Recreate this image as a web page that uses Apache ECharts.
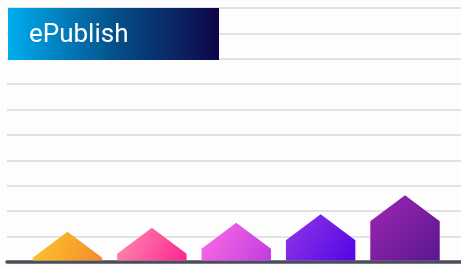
<!DOCTYPE html>
<html>
<head>
<meta charset="utf-8">
<script src="https://cdn.jsdelivr.net/npm/echarts@6/dist/echarts.min.js"></script>
<style>
  html, body { margin: 0; padding: 0; background: #fdfdfd; }
  #main { width: 461px; height: 269px; }
</style>
</head>
<body>
<div id="main"></div>
<script>
  var categories = ['A', 'B', 'C', 'D', 'E'];
  var values = [11.9, 13.5, 15.5, 18.8, 26.3];
  var barColors = [
    ['#fdc82e', '#f38a2c'],
    ['#ff8fae', '#fb2590'],
    ['#ff6de4', '#c03ce0'],
    ['#9238e8', '#5205e4'],
    ['#a026b4', '#58178e']
  ];

  var chart = echarts.init(document.getElementById('main'));

  function renderHouse(params, api) {
    var i = api.value(0);
    var top = api.coord([i, api.value(1)]);
    var base = api.coord([i, 0]);
    var w = api.size([1, 0])[0] * 0.823;
    var half = w / 2;
    var roof = half * 0.75;
    var c = barColors[params.dataIndex];
    return {
      type: 'polygon',
      shape: {
        points: [
          [top[0] - half, base[1] - 1.5],
          [top[0] - half, top[1] + roof],
          [top[0], top[1]],
          [top[0] + half, top[1] + roof],
          [top[0] + half, base[1] - 1.5]
        ]
      },
      style: {
        fill: new echarts.graphic.LinearGradient(0, 0, 1, 1, [
          {offset: 0, color: c[0]},
          {offset: 1, color: c[1]}
        ])
      }
    };
  }

  var option = {
    backgroundColor: '#fdfdfd',
    animation: false,
    grid: [
      {left: 7, right: 0, top: 8, bottom: 7},
      {left: 25.3, right: 13.8, top: 8, bottom: 7}
    ],
    xAxis: [
      {
        type: 'category', gridIndex: 0, data: categories,
        axisLine: {show: true, lineStyle: {color: '#4a4d5a', width: 3.5}},
        axisTick: {show: false}, axisLabel: {show: false}
      },
      {
        type: 'category', gridIndex: 1, data: categories,
        axisLine: {show: false}, axisTick: {show: false}, axisLabel: {show: false}
      }
    ],
    yAxis: [
      {
        type: 'value', gridIndex: 0, min: 0, max: 100, interval: 10,
        axisLine: {show: false}, axisTick: {show: false}, axisLabel: {show: false},
        splitLine: {lineStyle: {color: '#e2e2e2', width: 2}}
      },
      {
        type: 'value', gridIndex: 1, min: 0, max: 100, interval: 10,
        axisLine: {show: false}, axisTick: {show: false}, axisLabel: {show: false},
        splitLine: {show: false}
      }
    ],
    series: [{
      type: 'custom',
      xAxisIndex: 1,
      yAxisIndex: 1,
      renderItem: renderHouse,
      data: values.map(function (v, i) { return [i, v]; }),
      z: 3
    }],
    graphic: [{
      type: 'rect',
      left: 8,
      top: 8,
      zlevel: 1,
      shape: {x: 0, y: 0, width: 211, height: 52},
      style: {
        fill: new echarts.graphic.LinearGradient(0, 0, 1, 0, [
          {offset: 0, color: '#00adef'},
          {offset: 0.5, color: '#05518b'},
          {offset: 1, color: '#0e0548'}
        ])
      }
    }, {
      type: 'text',
      x: 29,
      y: 35,
      zlevel: 1,
      z: 5,
      style: {
        text: 'ePublish',
        fill: '#ffffff',
        font: '26px Roboto',
        verticalAlign: 'middle'
      }
    }]
  };

  chart.setOption(option);
</script>
</body>
</html>
